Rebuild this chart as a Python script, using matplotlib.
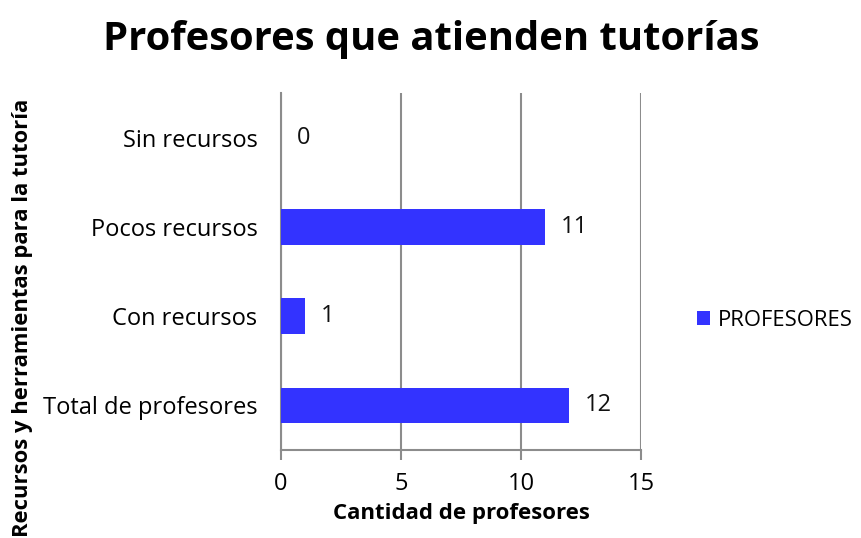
import matplotlib
matplotlib.use("Agg")
import matplotlib.pyplot as plt
from matplotlib.patches import Patch

categories = ["Total de profesores", "Con recursos", "Pocos recursos", "Sin recursos"]
values = [12, 1, 11, 0]
series_name = "PROFESORES"
xticks = [0, 5, 10, 15]

plt.rcParams['font.family'] = ['Open Sans', 'DejaVu Sans']

fig = plt.figure(figsize=(8.62, 5.38), dpi=100)
ax = fig.add_axes([0.326, 0.1636, 0.418, 0.663])

color = "#3333FF"
gray = "#8c8c8c"
ax.barh(range(len(categories)), values, height=0.4, color=color, zorder=3)
for i, v in enumerate(values):
    ax.text(v + 0.65, i, str(v), va="center", ha="left", fontsize=17, color="#111111")

ax.set_xlim(0, 15)
ax.set_ylim(-0.5, len(categories) - 0.5)
ax.set_xticks(xticks)
ax.set_xticklabels([str(t) for t in xticks], fontsize=17)
ax.set_yticks(range(len(categories)))
ax.set_yticklabels(categories, fontsize=17)
ax.tick_params(axis="y", length=0, pad=17)
ax.tick_params(axis="x", length=7, width=1.5, color=gray, pad=9)
ax.grid(axis="x", color=gray, linewidth=1.5, zorder=0)
for s in ["top", "right"]:
    ax.spines[s].set_visible(False)
ax.spines["left"].set_color(gray)
ax.spines["left"].set_linewidth(1.5)
ax.spines["bottom"].set_color(gray)
ax.spines["bottom"].set_linewidth(1.5)

fig.text(0.535, 0.046, "Cantidad de profesores", fontsize=16, fontweight="bold",
         ha="center", va="center")
fig.text(0.026, 0.41, "Recursos y herramientas para la tutoría", rotation=90,
         fontsize=15.8, fontweight="bold", ha="center", va="center")
fig.text(0.5, 0.926, "Profesores que atienden tutorías", fontsize=28.8,
         fontweight="bold", ha="center", va="center")

handles = [Patch(facecolor=color, label=series_name)]
fig.legend(handles=handles, loc="center left", bbox_to_anchor=(0.8086, 0.405),
           frameon=False, fontsize=15.8, handlelength=0.6, handleheight=0.6,
           handletextpad=0.35, borderpad=0, borderaxespad=0)

fig.savefig("out.png", dpi=100)
